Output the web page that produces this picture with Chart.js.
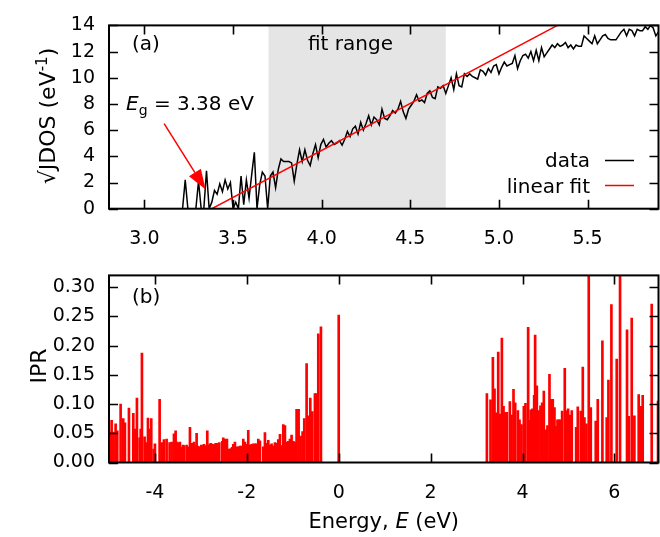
<!DOCTYPE html>
<html>
<head>
<meta charset="utf-8">
<script src="https://cdn.jsdelivr.net/npm/chart.js@4.4.1/dist/chart.umd.min.js"></script>
<style>
  html, body { margin: 0; padding: 0; background: #fff; }
  #wrap { position: relative; width: 660px; height: 537px; }
  canvas { position: absolute; left: 0; }
  #jdosChart { top: 0; }
  #iprChart { top: 250px; }
</style>
</head>
<body>
<div id="wrap">
  <canvas id="jdosChart" width="660" height="250"></canvas>
  <canvas id="iprChart" width="660" height="287"></canvas>
</div>
<script>
// panel (a): sqrt of joint density of states near the gap
const jdosEnergy = [
  3.200,3.215,3.230,3.245,3.260,3.275,3.290,3.305,3.320,3.335,
  3.350,3.365,3.380,3.395,3.410,3.425,3.440,3.455,3.470,3.485,
  3.500,3.515,3.530,3.545,3.560,3.575,3.590,3.605,3.620,3.635,
  3.650,3.665,3.680,3.695,3.710,3.725,3.740,3.755,3.770,3.785,
  3.800,3.815,3.830,3.845,3.860,3.875,3.890,3.905,3.920,3.935,
  3.950,3.965,3.980,3.995,4.010,4.025,4.040,4.055,4.070,4.085,
  4.100,4.115,4.130,4.145,4.160,4.175,4.190,4.205,4.220,4.235,
  4.250,4.265,4.280,4.295,4.310,4.325,4.340,4.355,4.370,4.385,
  4.400,4.415,4.430,4.445,4.460,4.475,4.490,4.505,4.520,4.535,
  4.550,4.565,4.580,4.595,4.610,4.625,4.640,4.655,4.670,4.685,
  4.700,4.715,4.730,4.745,4.760,4.775,4.790,4.805,4.820,4.835,
  4.850,4.865,4.880,4.895,4.910,4.925,4.940,4.955,4.970,4.985,
  5.000,5.015,5.030,5.045,5.060,5.075,5.090,5.105,5.120,5.135,
  5.150,5.165,5.180,5.195,5.210,5.225,5.240,5.255,5.270,5.285,
  5.300,5.315,5.330,5.345,5.360,5.375,5.390,5.405,5.420,5.435,
  5.450,5.465,5.480,5.495,5.510,5.525,5.540,5.555,5.570,5.585,
  5.600,5.615,5.630,5.645,5.660,5.675,5.690,5.705,5.720,5.735,
  5.750,5.765,5.780,5.795,5.810,5.825,5.840,5.855,5.870,5.885,
  5.900
];
const jdosValue = [
  0,0,2.2,0,0,0,0,2.1,0,0,
  2.9,0,0.5,1.4,1.1,1.9,1.3,2.2,1.5,2.0,
  0,0.5,0,2.5,0.3,2.2,0.8,2.6,4.3,0,
  1.8,2.8,2.5,0,2.5,2.8,1.6,3.0,3.8,3.6,
  3.6,3.6,3.5,2.1,3.4,4.5,3.6,4.5,3.7,3.3,
  4.2,4.9,3.9,4.9,5.3,4.7,5.0,5.2,4.9,5.0,
  5.2,4.85,5.3,5.9,5.5,6.1,6.3,5.7,6.6,6.0,
  6.5,7.1,6.4,7.0,6.8,6.4,7.6,6.9,6.8,7.1,
  7.5,7.3,7.6,8.2,7.4,6.9,7.6,7.9,8.2,8.7,
  8.2,8.3,8.1,8.8,9.0,8.5,8.4,9.3,9.2,9.4,
  8.8,9.4,10.0,9.1,10.3,9.4,9.3,10.3,10.1,10.3,
  10.1,10.0,9.9,10.6,10.5,10.2,10.7,10.4,10.9,11.0,
  10.3,10.8,11.2,10.9,11.0,11.1,11.7,10.7,11.3,11.7,
  11.8,11.5,12.0,11.3,12.1,11.3,12.3,11.6,11.9,12.2,
  12.5,12.3,12.6,12.4,12.5,12.7,12.3,12.5,12.2,12.5,
  12.4,12.4,13.2,13.0,12.8,12.6,13.2,12.6,12.9,13.2,
  13.3,13.0,12.9,12.9,12.9,13.2,13.5,13.7,13.2,13.7,
  13.6,13.2,13.7,13.6,13.6,13.9,13.7,14.0,13.8,13.2,
  13.5
];
const fitEnergy = [3.38, 5.33];
const fitValue = [0, 14];
const fitRange = [3.7, 4.7];
const gapArrowFrom = [3.111, 6.5];
const gapArrowTo = [3.345, 1.47];
const jdosTicksX = [2.8, 5.9, 0.5];   // min, max, step
const jdosTicksY = [0, 14, 2];

// panel (b): inverse participation ratio of each state
const iprEnergy = [
  -4.97,-4.943,-4.90,-4.856,-4.82,-4.747,-4.69,-4.653,-4.566,-4.471,
  -4.435,-4.392,-4.334,-4.31,-4.283,-4.225,-4.188,-4.152,-4.109,-4.08,
  -4.029,-4.0,-3.898,-3.848,-3.804,-3.746,-3.681,-3.637,-3.586,-3.55,
  -3.514,-3.478,-3.456,-3.412,-3.39,-3.369,-3.311,-3.29,-3.274,-3.238,
  -3.215,-3.195,-3.151,-3.12,-3.093,-3.06,-3.021,-2.99,-2.962,-2.935,
  -2.912,-2.861,-2.835,-2.803,-2.78,-2.759,-2.73,-2.709,-2.68,-2.658,
  -2.643,-2.614,-2.60,-2.535,-2.513,-2.476,-2.455,-2.433,-2.39,-2.346,
  -2.32,-2.295,-2.259,-2.222,-2.186,-2.15,-2.114,-2.077,-2.041,-2.005,
  -1.969,-1.932,-1.896,-1.86,-1.823,-1.787,-1.751,-1.715,-1.642,-1.606,
  -1.57,-1.533,-1.497,-1.461,-1.424,-1.388,-1.352,-1.316,-1.279,-1.243,
  -1.207,-1.171,-1.134,-1.098,-1.062,-1.026,-0.989,-0.953,-0.917,-0.873,
  -0.83,-0.786,-0.75,-0.699,-0.663,-0.619,-0.576,-0.518,-0.489,-0.445,
  -0.387,0.0,
  3.225,3.304,3.355,3.391,3.428,3.471,3.514,3.551,3.587,3.623,
  3.659,3.725,3.761,3.804,3.841,3.899,3.935,3.978,4.029,4.065,
  4.123,4.159,4.181,4.217,4.254,4.275,4.312,4.348,4.391,4.428,
  4.464,4.507,4.543,4.587,4.623,4.659,4.696,4.732,4.761,4.790,
  4.826,4.862,4.920,4.957,4.993,5.029,5.072,5.167,5.203,5.268,
  5.312,5.348,5.391,5.442,5.486,5.594,5.638,5.739,5.833,5.870,
  5.935,6.051,6.123,6.275,6.312,6.377,6.435,6.529,6.572,6.616,
  6.812,6.95
];
const iprValue = [
  0.052,0.072,0.052,0.066,0.054,0.100,0.075,0.068,0.093,0.084,
  0.057,0.110,0.042,0.057,0.187,0.044,0.034,0.076,0.057,0.075,
  0.023,0.032,0.108,0.034,0.039,0.040,0.034,0.035,0.049,0.054,
  0.035,0.033,0.035,0.026,0.030,0.029,0.030,0.027,0.026,0.060,
  0.031,0.033,0.035,0.030,0.050,0.028,0.027,0.030,0.029,0.031,
  0.029,0.054,0.030,0.032,0.033,0.030,0.031,0.030,0.033,0.033,
  0.027,0.033,0.034,0.036,0.042,0.040,0.038,0.040,0.023,0.024,
  0.026,0.031,0.035,0.027,0.027,0.028,0.028,0.040,0.035,0.031,
  0.055,0.030,0.031,0.032,0.032,0.032,0.040,0.037,0.027,0.051,
  0.033,0.038,0.030,0.032,0.028,0.034,0.033,0.039,0.048,0.029,
  0.065,0.063,0.035,0.036,0.040,0.047,0.036,0.035,0.091,0.091,
  0.045,0.053,0.075,0.169,0.080,0.110,0.087,0.118,0.118,0.220,
  0.232,0.252,
  0.118,0.107,0.180,0.126,0.085,0.189,0.083,0.213,0.096,0.086,
  0.086,0.104,0.081,0.125,0.102,0.089,0.073,0.065,0.096,0.101,
  0.231,0.072,0.090,0.092,0.115,0.218,0.131,0.089,0.097,0.102,
  0.122,0.056,0.063,0.151,0.108,0.108,0.094,0.062,0.073,0.073,
  0.073,0.088,0.161,0.089,0.092,0.081,0.089,0.060,0.095,0.088,
  0.163,0.077,0.066,0.330,0.094,0.071,0.108,0.208,0.077,0.141,
  0.270,0.177,0.330,0.227,0.079,0.247,0.080,0.116,0.096,0.115,
  0.271,0.105
];
const iprTicksX = [-5, 6.96, 2];
const iprTicksY = [0, 0.32, 0.05];

const FONT = "'DejaVu Sans', sans-serif";
Chart.defaults.font.family = FONT;
Chart.defaults.font.size = 19;
Chart.defaults.color = '#000';

// draw a run of text pieces (font switches for italics / sub / superscripts)
function drawParts(ctx, x, y, parts, align) {
  let total = 0;
  parts.forEach(p => { ctx.font = p.font; p.w = ctx.measureText(p.text).width; total += p.w; });
  let cx = x;
  if (align === 'center') cx = x - total / 2;
  if (align === 'right') cx = x - total;
  ctx.textAlign = 'left';
  ctx.textBaseline = 'alphabetic';
  parts.forEach(p => { ctx.font = p.font; ctx.fillText(p.text, cx, y + (p.dy || 0)); cx += p.w; });
}

function drawRotatedParts(ctx, x, y, parts) {
  ctx.save();
  ctx.translate(x, y);
  ctx.rotate(-Math.PI / 2);
  drawParts(ctx, 0, 0, parts, 'center');
  ctx.restore();
}

// gnuplot style border with inward, mirrored ticks
const frameTicks = {
  id: 'frameTicks',
  afterDatasetsDraw(chart) {
    const { ctx, chartArea: a, scales: { x, y } } = chart;
    const len = 9;
    ctx.save();
    ctx.strokeStyle = '#000';
    ctx.lineWidth = 1.6;
    ctx.beginPath();
    x.ticks.forEach(t => {
      const px = Math.round(x.getPixelForValue(t.value)) + 0.5;
      ctx.moveTo(px, a.bottom); ctx.lineTo(px, a.bottom - len);
      ctx.moveTo(px, a.top); ctx.lineTo(px, a.top + len);
    });
    y.ticks.forEach(t => {
      const py = Math.round(y.getPixelForValue(t.value)) + 0.5;
      ctx.moveTo(a.left, py); ctx.lineTo(a.left + len, py);
      ctx.moveTo(a.right, py); ctx.lineTo(a.right - len, py);
    });
    ctx.stroke();
    ctx.lineWidth = 2;
    ctx.strokeRect(a.left, a.top, a.right - a.left, a.bottom - a.top);
    ctx.restore();
  }
};

const fitShade = {
  id: 'fitShade',
  beforeDatasetsDraw(chart) {
    const { ctx, chartArea: a, scales: { x } } = chart;
    const x0 = x.getPixelForValue(fitRange[0]);
    const x1 = x.getPixelForValue(fitRange[1]);
    ctx.save();
    ctx.fillStyle = '#e5e5e5';
    ctx.fillRect(x0, a.top, x1 - x0, a.bottom - a.top);
    ctx.restore();
  }
};

const jdosNotes = {
  id: 'jdosNotes',
  afterDraw(chart) {
    const { ctx, chartArea: a, scales: { x, y } } = chart;
    ctx.save();
    ctx.fillStyle = '#000';
    const big = '20px ' + FONT;
    drawParts(ctx, a.left + 23, 50, [{ text: '(a)', font: big }]);
    drawParts(ctx, 308, 50, [{ text: 'fit range', font: big }]);
    drawParts(ctx, 126, 110, [
      { text: 'E', font: 'oblique 20px ' + FONT },
      { text: 'g', font: '14px ' + FONT, dy: 5 },
      { text: ' = 3.38 eV', font: big }
    ]);

    // arrow pointing at the gap
    const sx = x.getPixelForValue(gapArrowFrom[0]), sy = y.getPixelForValue(gapArrowFrom[1]);
    const tx = x.getPixelForValue(gapArrowTo[0]), ty = y.getPixelForValue(gapArrowTo[1]);
    const ang = Math.atan2(ty - sy, tx - sx);
    const hl = 20, hw = 7;
    const bx = tx - hl * Math.cos(ang), by = ty - hl * Math.sin(ang);
    ctx.strokeStyle = '#ff0000';
    ctx.fillStyle = '#ff0000';
    ctx.lineWidth = 1.5;
    ctx.beginPath(); ctx.moveTo(sx, sy); ctx.lineTo(bx, by); ctx.stroke();
    ctx.beginPath();
    ctx.moveTo(tx, ty);
    ctx.lineTo(bx + hw * Math.sin(ang), by - hw * Math.cos(ang));
    ctx.lineTo(bx - hw * Math.sin(ang), by + hw * Math.cos(ang));
    ctx.closePath(); ctx.fill();

    // key
    ctx.fillStyle = '#000';
    drawParts(ctx, 590, 167, [{ text: 'data', font: big }], 'right');
    drawParts(ctx, 590, 193, [{ text: 'linear fit', font: big }], 'right');
    ctx.lineWidth = 1.5;
    ctx.strokeStyle = '#000';
    ctx.beginPath(); ctx.moveTo(605, 160.5); ctx.lineTo(634, 160.5); ctx.stroke();
    ctx.strokeStyle = '#ff0000';
    ctx.beginPath(); ctx.moveTo(605, 185.5); ctx.lineTo(634, 185.5); ctx.stroke();

    ctx.fillStyle = '#000';
    drawRotatedParts(ctx, 55, 116, [
      { text: '\u221AJDOS (eV', font: '22px ' + FONT },
      { text: '-1', font: '15px ' + FONT, dy: -8 },
      { text: ')', font: '22px ' + FONT }
    ]);
    ctx.restore();
  }
};

const iprNotes = {
  id: 'iprNotes',
  afterDraw(chart) {
    const { ctx, chartArea: a } = chart;
    ctx.save();
    ctx.fillStyle = '#000';
    drawParts(ctx, a.left + 23, 53, [{ text: '(b)', font: '20px ' + FONT }]);
    drawRotatedParts(ctx, 46, 116, [{ text: 'IPR', font: '22px ' + FONT }]);
    drawParts(ctx, (a.left + a.right) / 2, 278, [
      { text: 'Energy, ', font: '21px ' + FONT },
      { text: 'E', font: 'oblique 21px ' + FONT },
      { text: ' (eV)', font: '21px ' + FONT }
    ], 'center');
    ctx.restore();
  }
};

function axisOptions(t, fmt, pad, fit) {
  return {
    type: 'linear',
    min: t[0],
    max: t[1],
    offset: false,
    afterFit: fit,
    grid: { display: false, drawTicks: false, offset: false },
    border: { display: false },
    ticks: {
      stepSize: t[2],
      includeBounds: false,
      autoSkip: false,
      maxRotation: 0,
      padding: pad,
      font: { size: 19 },
      color: '#000',
      callback: fmt
    }
  };
}

new Chart(document.getElementById('jdosChart'), {
  type: 'line',
  data: {
    datasets: [
      {
        label: 'linear fit',
        data: fitEnergy.map((e, i) => ({ x: e, y: fitValue[i] })),
        borderColor: '#ff0000',
        borderWidth: 1.5,
        pointRadius: 0,
        order: 0
      },
      {
        label: 'data',
        data: jdosEnergy.map((e, i) => ({ x: e, y: jdosValue[i] })),
        borderColor: '#000',
        borderWidth: 1.5,
        pointRadius: 0,
        tension: 0,
        order: 1
      }
    ]
  },
  options: {
    responsive: false,
    animation: false,
    devicePixelRatio: 1,
    layout: { padding: { top: 14, right: 1.5, left: 0, bottom: 0 } },
    plugins: { legend: { display: false }, tooltip: { enabled: false } },
    scales: {
      x: axisOptions(jdosTicksX, v => v.toFixed(1), 19, s => { s.height = 41.3; }),
      y: axisOptions(jdosTicksY, v => String(v), 14, s => { s.width = 109; })
    }
  },
  plugins: [fitShade, frameTicks, jdosNotes]
});

new Chart(document.getElementById('iprChart'), {
  type: 'bar',
  data: {
    datasets: [{
      label: 'IPR',
      data: iprEnergy.map((e, i) => ({ x: e, y: iprValue[i] })),
      backgroundColor: '#ff0000',
      borderWidth: 0,
      barThickness: 2,
      grouped: false,
      clip: 0
    }]
  },
  options: {
    responsive: false,
    animation: false,
    devicePixelRatio: 1,
    layout: { padding: { top: 18.5, right: 1.5, left: 0, bottom: 0 } },
    plugins: { legend: { display: false }, tooltip: { enabled: false } },
    scales: {
      x: axisOptions(iprTicksX, v => String(v), 19, s => { s.height = 74.5; }),
      y: axisOptions(iprTicksY, v => v.toFixed(2), 14, s => { s.width = 109; })
    }
  },
  plugins: [frameTicks, iprNotes]
});
</script>
</body>
</html>
